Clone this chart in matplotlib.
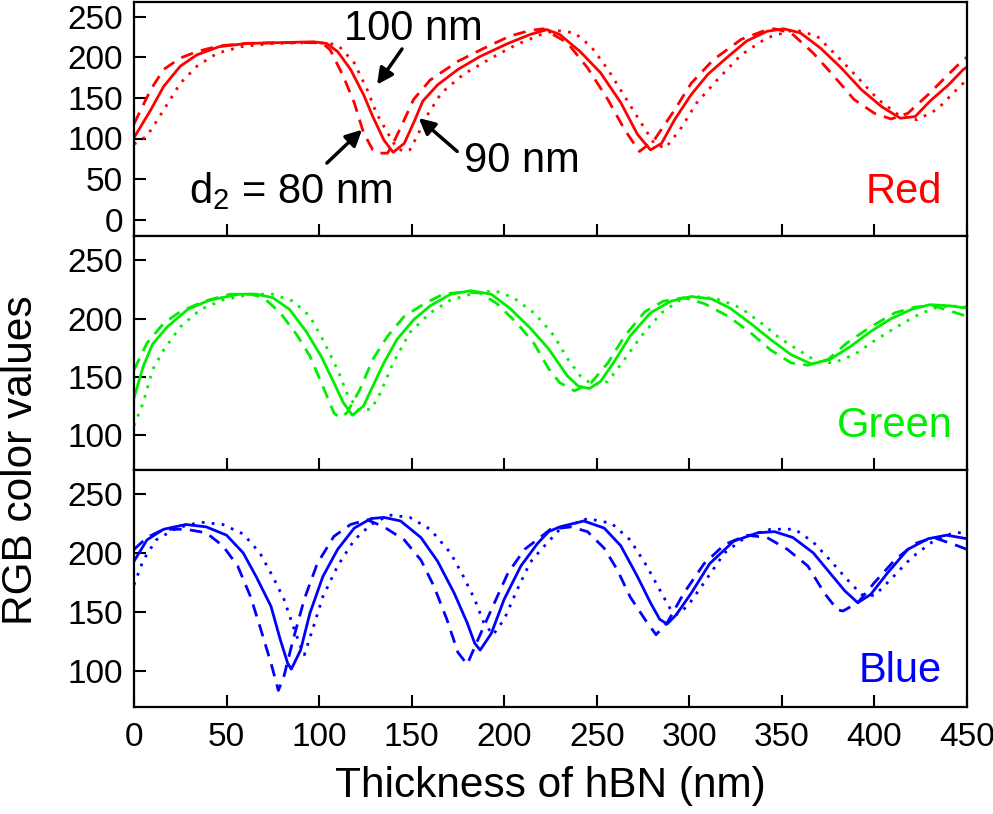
import matplotlib
matplotlib.use("Agg")
import matplotlib.pyplot as plt

plt.rcParams['font.family'] = ['Liberation Sans', 'DejaVu Sans']
plt.rcParams['mathtext.fontset'] = 'custom'
plt.rcParams['mathtext.rm'] = 'Liberation Sans'

# ---------------- data ----------------
# Red channel
red_90_x = [0, 9, 16, 25, 34, 46, 61, 79, 97, 104, 110, 117, 124, 129, 135, 140, 146, 151, 156, 164, 175, 187,
            202, 214, 223, 230, 241, 252, 263, 272, 279, 285, 292, 301, 310, 321, 331, 342, 351, 360, 371, 382,
            393, 404, 414, 422, 430, 440, 448, 450]
red_90_y = [101, 135, 164, 189, 203, 213, 217, 218, 219, 217, 207, 185, 154, 127, 98, 83, 94, 119, 146, 166, 185, 201,
            217, 228, 234, 228, 207, 181, 144, 105, 86, 94, 123, 154, 179, 201, 220, 232, 235, 230, 211, 187,
            160, 139, 125, 127, 146, 166, 185, 188]
red_80_x = [0, 9, 16, 25, 34, 46, 61, 79, 97, 102, 106, 113, 119, 124, 129, 132, 137, 140, 146, 151, 160, 175,
            189, 203, 214, 221, 234, 245, 256, 265, 273, 281, 292, 301, 313, 328, 342, 346, 355, 367, 378, 389,
            400, 409, 418, 429, 440, 448, 450]
red_80_y = [118, 160, 185, 199, 207, 214, 217, 218, 218, 217, 209, 177, 144, 107, 86, 82, 82, 94, 123, 148, 172, 195,
            211, 226, 233, 235, 218, 187, 148, 111, 84, 98, 135, 168, 197, 222, 234, 235, 230, 205, 177, 148,
            131, 124, 131, 154, 179, 197, 200]
red_100_x = [0, 7, 16, 25, 34, 45, 58, 75, 95, 106, 111, 119, 126, 131, 137, 142, 146, 149, 153, 158, 166, 178,
             193, 207, 220, 228, 238, 247, 256, 265, 274, 281, 287, 295, 304, 315, 328, 342, 357, 369, 380, 391,
             402, 413, 423, 434, 446, 450]
red_100_y = [93, 103, 135, 168, 189, 205, 213, 217, 218, 217, 213, 193, 160, 131, 107, 88, 84, 86, 103, 127, 156, 179,
             199, 216, 228, 233, 230, 213, 185, 152, 119, 94, 88, 111, 144, 172, 203, 224, 234, 226, 201, 175,
             148, 129, 123, 136, 164, 172]

# Green channel
green_90_x = [0, 5, 10, 18, 29, 41, 57, 66, 75, 84, 93, 101, 108, 113, 118, 124, 129, 135, 142, 151, 160, 171, 182,
              193, 203, 214, 224, 234, 240, 246, 252, 259, 268, 279, 290, 301, 312, 322, 333, 344, 355, 366, 376,
              387, 398, 409, 420, 430, 441, 450]
green_90_y = [132, 159, 178, 193, 208, 216, 221, 221, 218, 208, 189, 168, 145, 128, 117, 125, 142, 162, 182, 199, 211,
              221, 224, 221, 209, 192, 174, 151, 142, 140, 146, 162, 185, 205, 215, 219, 217, 209, 196, 182, 169,
              161, 165, 176, 189, 200, 208, 212, 211, 209]
green_80_x = [0, 7, 16, 25, 38, 52, 63, 70, 79, 88, 95, 102, 108, 111, 115, 122, 129, 137, 146, 157, 167, 178, 187,
              196, 207, 216, 224, 230, 238, 247, 256, 265, 276, 286, 297, 308, 321, 333, 344, 355, 364, 375, 385,
              398, 411, 422, 432, 448, 450]
green_80_y = [156, 179, 196, 206, 215, 221, 221, 218, 205, 186, 168, 142, 119, 115, 119, 139, 165, 185, 202, 213, 221,
              223, 222, 213, 196, 179, 157, 145, 138, 145, 162, 185, 206, 215, 218, 213, 202, 188, 173, 162, 160,
              165, 179, 193, 205, 210, 211, 203, 202]
green_100_x = [0, 5, 10, 16, 25, 36, 48, 63, 75, 86, 95, 102, 110, 115, 121, 128, 133, 140, 149, 160, 171, 184, 195,
               205, 216, 220, 224, 227, 234, 241, 248, 256, 265, 274, 285, 295, 306, 317, 328, 339, 349, 360, 369,
               378, 389, 400, 411, 422, 432, 441, 450]
green_100_y = [108, 128, 156, 173, 193, 208, 216, 221, 221, 215, 202, 182, 156, 136, 122, 122, 136, 162, 188, 205, 216,
               222, 224, 218, 205, 198, 191, 185, 166, 151, 143, 146, 165, 185, 205, 216, 219, 216, 209, 196, 183,
               172, 163, 162, 169, 181, 192, 202, 209, 211, 210]

# Blue channel
blue_90_x = [0, 7, 16, 28, 39, 50, 59, 66, 74, 79, 83, 85, 90, 95, 102, 110, 119, 128, 135, 144, 155, 164, 173, 180,
             184, 187, 193, 200, 209, 218, 224, 230, 243, 254, 263, 272, 279, 284, 288, 293, 301, 311, 324, 337,
             346, 356, 367, 376, 384, 391, 398, 407, 418, 429, 439, 450]
blue_90_y = [193, 211, 220, 224, 222, 215, 200, 180, 155, 127, 107, 102, 118, 149, 180, 203, 221, 229, 230, 227, 213,
             193, 166, 141, 124, 118, 132, 161, 189, 208, 218, 222, 227, 221, 206, 180, 158, 144, 140, 148, 166,
             191, 210, 217, 218, 213, 200, 183, 168, 158, 165, 183, 203, 212, 215, 212]
blue_80_x = [0, 7, 16, 28, 39, 48, 56, 63, 68, 74, 78, 81, 86, 92, 99, 108, 117, 126, 135, 146, 155, 162, 169, 175,
             180, 185, 193, 202, 211, 221, 225, 236, 245, 254, 261, 268, 276, 282, 288, 297, 308, 319, 331, 342,
             353, 364, 373, 380, 383, 391, 400, 411, 422, 432, 445, 450]
blue_80_y = [203, 213, 220, 220, 217, 206, 189, 163, 138, 107, 84, 96, 127, 161, 191, 214, 224, 228, 222, 211, 194,
             172, 144, 116, 106, 124, 152, 183, 203, 215, 220, 222, 218, 204, 186, 163, 144, 131, 141, 166, 191,
             207, 215, 213, 203, 189, 166, 152, 151, 158, 175, 194, 208, 213, 206, 203]
blue_100_x = [0, 5, 12, 23, 36, 48, 59, 68, 75, 81, 86, 90, 92, 97, 102, 110, 119, 128, 138, 149, 160, 171, 178,
              184, 189, 194, 200, 207, 214, 220, 223, 230, 245, 258, 268, 277, 285, 290, 293, 299, 308, 319, 331,
              344, 357, 367, 376, 385, 393, 400, 409, 420, 431, 441, 450]
blue_100_y = [173, 194, 211, 221, 226, 224, 216, 200, 180, 161, 138, 121, 114, 138, 163, 189, 211, 224, 232, 230,
              220, 200, 180, 161, 141, 131, 144, 169, 192, 203, 208, 220, 229, 225, 211, 189, 166, 152, 148, 155,
              175, 200, 214, 220, 220, 209, 194, 178, 165, 164, 178, 196, 209, 216, 218]

panel_names = ["Red", "Green", "Blue"]
panel_colors = ["#ff0000", "#00ee00", "#0000ff"]
y_ticks = [[0, 50, 100, 150, 200, 250], [100, 150, 200, 250], [100, 150, 200, 250]]
y_limits = [(-20, 268), (70, 271), (70, 270)]
x_ticks = [0, 50, 100, 150, 200, 250, 300, 350, 400, 450]

series = [
    [(red_80_x, red_80_y), (red_90_x, red_90_y), (red_100_x, red_100_y)],
    [(green_80_x, green_80_y), (green_90_x, green_90_y), (green_100_x, green_100_y)],
    [(blue_80_x, blue_80_y), (blue_90_x, blue_90_y), (blue_100_x, blue_100_y)],
]

# ---------------- figure ----------------
fig = plt.figure(figsize=(9.93, 8.14), dpi=100)
left, width = 134 / 993, 833 / 993
positions = [
    (left, 1 - 236 / 814, width, 234 / 814),
    (left, 1 - 470 / 814, width, 234 / 814),
    (left, 1 - 707 / 814, width, 237 / 814),
]
styles = [dict(ls=(0, (4.5, 3))), dict(ls='-'), dict(ls=(0, (1, 2.6)))]

axes = []
for i, pos in enumerate(positions):
    ax = fig.add_axes(pos)
    axes.append(ax)
    c = panel_colors[i]
    for (xs, ys), st in zip(series[i], styles):
        ax.plot(xs, ys, color=c, lw=2.0, solid_joinstyle='round', **st)
    ax.set_xlim(0, 450)
    ax.set_ylim(*y_limits[i])
    ax.set_yticks(y_ticks[i])
    ax.set_xticks(x_ticks)
    ax.tick_params(direction='in', length=8.5, width=1.5, labelsize=24,
                   top=False, right=False)
    ax.tick_params(axis='x', pad=11)
    ax.tick_params(axis='y', pad=8)
    if i < 2:
        ax.tick_params(labelbottom=False)
    for s in ax.spines.values():
        s.set_linewidth(1.6)
    ax.text(0.97 if i != 1 else 0.983, 0.14 if i != 2 else 0.105, panel_names[i],
            transform=ax.transAxes, ha='right', va='baseline', fontsize=30, color=c)

axes[2].set_xlabel("Thickness of hBN (nm)", fontsize=30.5, labelpad=9)
fig.text(0.021, 0.435, "RGB color values", rotation=90, fontsize=30.5, ha='center', va='center')

# annotations in the red panel
ax = axes[0]
arrow = dict(arrowstyle='-|>', color='black', lw=2.5, mutation_scale=24, shrinkA=0, shrinkB=0)
ax.annotate("", xy=(131.3, 166.3), xytext=(144.8, 210.2), arrowprops=arrow)
ax.annotate("", xy=(153.8, 125.2), xytext=(174.6, 84.1), arrowprops=arrow)
ax.annotate("", xy=(123.2, 110.8), xytext=(104.2, 69.8), arrowprops=arrow)
ax.text(150.9, 221.7, "100 nm", fontsize=30, ha='center', va='baseline')
ax.text(209.3, 59.1, "90 nm", fontsize=30, ha='center', va='baseline')
ax.text(29.5, 20.9, r"d$_\mathregular{2}$ = 80 nm", fontsize=30, ha='left', va='baseline')

fig.savefig("out.png", dpi=100)
